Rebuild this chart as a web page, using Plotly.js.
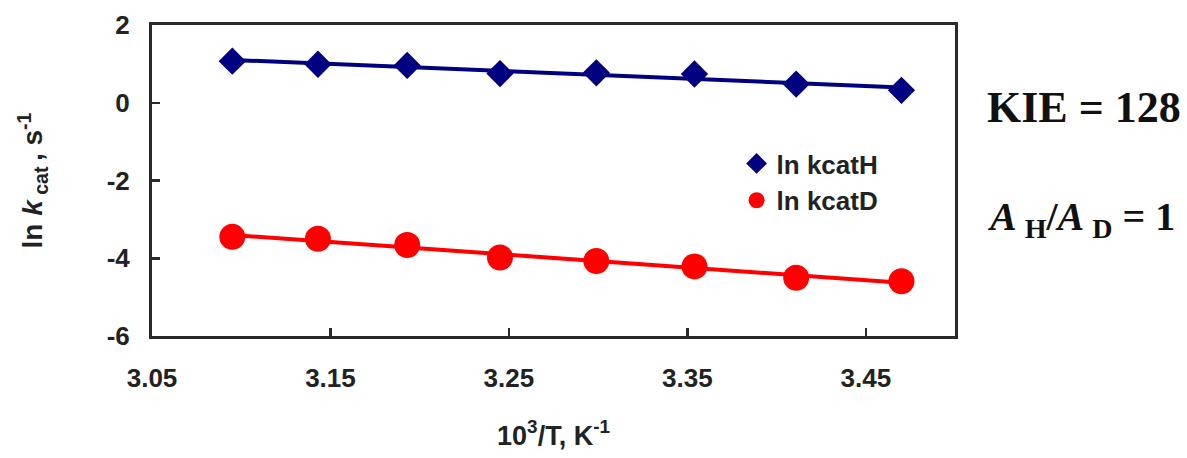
<!DOCTYPE html>
<html>
<head>
<meta charset="utf-8">
<script src="https://cdn.plot.ly/plotly-3.0.1.min.js"></script>
<style>html,body{margin:0;padding:0;background:#fff;}#chart{width:1187px;height:458px;}</style>
</head>
<body>
<div id="chart"></div>
<script>
// Data
const invT = [3.095, 3.143, 3.193, 3.245, 3.299, 3.354, 3.411, 3.470];
const lnKcatH = [1.07, 0.99, 0.96, 0.75, 0.77, 0.74, 0.48, 0.32];
const lnKcatD = [-3.45, -3.50, -3.66, -3.98, -4.07, -4.21, -4.50, -4.59];
const xTickVals = [3.05, 3.15, 3.25, 3.35, 3.45];
const xTickText = ["3.05", "3.15", "3.25", "3.35", "3.45"];
const yTickVals = [-6, -4, -2, 0, 2];
const yTickText = ["-6", "-4", "-2", "0", "2"];
const seriesNames = ["ln kcatH", "ln kcatD"];

function linFit(x, y) {
  const n = x.length;
  const mx = x.reduce((a, b) => a + b, 0) / n;
  const my = y.reduce((a, b) => a + b, 0) / n;
  let sxy = 0, sxx = 0;
  for (let i = 0; i < n; i++) { sxy += (x[i] - mx) * (y[i] - my); sxx += (x[i] - mx) ** 2; }
  const b = sxy / sxx, a = my - b * mx;
  return x.map(v => a + b * v);
}

const blue = '#000080', red = '#ff0000';
const traces = [
  {x: invT, y: linFit(invT, lnKcatH), mode: 'lines', line: {color: blue, width: 4}, showlegend: false, hoverinfo: 'skip'},
  {x: invT, y: linFit(invT, lnKcatD), mode: 'lines', line: {color: red, width: 4}, showlegend: false, hoverinfo: 'skip'},
  {x: invT, y: lnKcatH, name: seriesNames[0], mode: 'markers', marker: {symbol: 'diamond', size: 21, color: blue}},
  {x: invT, y: lnKcatD, name: seriesNames[1], mode: 'markers', marker: {symbol: 'circle', size: 26, color: red}}
];

const axisCommon = {
  showline: true, linewidth: 3, linecolor: '#2a2a2a', mirror: true,
  showgrid: false, zeroline: false,
  ticks: 'inside', ticklen: 8, tickwidth: 2.5, tickcolor: '#2a2a2a',
  tickfont: {family: 'Liberation Sans, Arial, sans-serif', size: 26, weight: 'bold', color: '#222'},
  automargin: false
};

const layout = {
  width: 1187, height: 458,
  margin: {l: 152, r: 232, t: 25, b: 122},
  paper_bgcolor: '#fff', plot_bgcolor: '#fff',
  xaxis: Object.assign({}, axisCommon, {
    range: [3.05, 3.5], tickmode: 'array', tickvals: xTickVals, ticktext: xTickText,
    ticklabelstandoff: 17,
    title: {text: '10<sup>3</sup>/T, K<sup>-1</sup>', standoff: 34,
      font: {family: 'Liberation Sans, Arial, sans-serif', size: 27, weight: 'bold', color: '#222'}}
  }),
  yaxis: Object.assign({}, axisCommon, {
    range: [-6, 2], tickmode: 'array', tickvals: yTickVals, ticktext: yTickText,
    ticklabelstandoff: 14,
    title: {text: 'ln <i>k</i><sub> cat </sub>, s<sup>-1</sup>', standoff: 56,
      font: {family: 'Liberation Sans, Arial, sans-serif', size: 28, weight: 'bold', color: '#222'}}
  }),
  legend: {
    x: 0.728, y: 0.63, xanchor: 'left', yanchor: 'top',
    bgcolor: 'rgba(0,0,0,0)', borderwidth: 0,
    font: {family: 'Liberation Sans, Arial, sans-serif', size: 26, weight: 'bold', color: '#222'},
    itemwidth: 30, tracegroupgap: 0
  },
  annotations: [
    {xref: 'paper', yref: 'paper', x: 1.037, y: 0.736, xanchor: 'left', yanchor: 'middle', showarrow: false,
     text: '<b>KIE = 128</b>', font: {family: 'Liberation Serif, Times New Roman, serif', size: 44, color: '#111'}},
    {xref: 'paper', yref: 'paper', x: 1.037, y: 0.375, xanchor: 'left', yanchor: 'middle', showarrow: false,
     text: '<b><i>A</i>\u2009<sub>H</sub>/<i>A</i>\u2009<sub>D</sub> = 1</b>', font: {family: 'Liberation Serif, Times New Roman, serif', size: 40, color: '#111'}}
  ]
};

Plotly.newPlot('chart', traces, layout, {displayModeBar: false, staticPlot: true});
</script>
</body>
</html>
